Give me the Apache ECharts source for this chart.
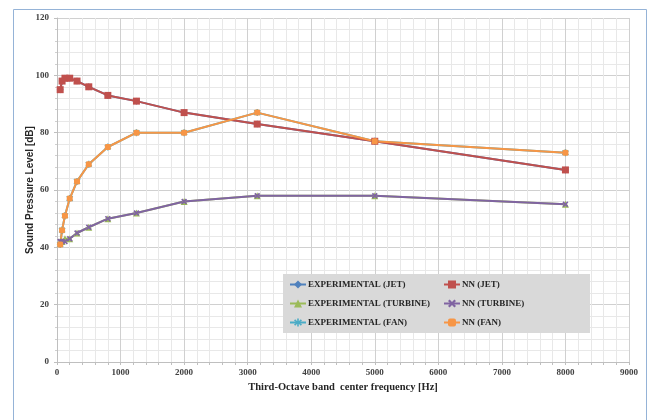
<!DOCTYPE html>
<html>
<head>
<meta charset="utf-8">
<script src="https://cdn.jsdelivr.net/npm/echarts@6/dist/echarts.min.js"></script>
<style>
  html, body { margin: 0; padding: 0; background: #fff; }
  #chart { width: 653px; height: 420px; }
</style>
</head>
<body>
<div id="chart"></div>
<script>
// every second third-octave band
const freqs = [50, 80, 125, 200, 315, 500, 800, 1250, 2000, 3150, 5000, 8000]

const expJet = [95, 98, 99, 99, 98, 96, 93, 91, 87, 83, 77, 67]
const nnJet = [95, 98, 99, 99, 98, 96, 93, 91, 87, 83, 77, 67]
const expTurbine = [42, 42, 43, 43, 45, 47, 50, 52, 56, 58, 58, 55]
const nnTurbine = [42, 42, 42, 43, 45, 47, 50, 52, 56, 58, 58, 55]
const expFan = [41, 46, 51, 57, 63, 69, 75, 80, 80, 87, 77, 73]
const nnFan = [41, 46, 51, 57, 63, 69, 75, 80, 80, 87, 77, 73]

const xSymbol = 'path://M2,0L5,3L8,0L10,2L7,5L10,8L8,10L5,7L2,10L0,8L3,5L0,2Z'
const starSymbol = 'path://M4,0L6,0L6,3.5L8.5,1L10,2.5L7,5L10,7.5L8.5,9L6,6.5L6,10L4,10L4,6.5L1.5,9L0,7.5L3,5L0,2.5L1.5,1L4,3.5Z'

const serif = '"Liberation Serif", "DejaVu Serif", serif'
const pairs = (ys) => freqs.map((f, i) => [f, ys[i]])

const chart = echarts.init(document.getElementById('chart'), null, { renderer: 'canvas' })

function line(name, ys, color, symbol, size) {
  return {
    name, type: 'line', data: pairs(ys),
    symbol, symbolSize: size, showSymbol: true,
    lineStyle: { width: 2, color },
    itemStyle: { color },
    emphasis: { disabled: true },
    animation: false,
  }
}

const legendText = { fontFamily: serif, fontWeight: 'bold', fontSize: 9, color: '#262626', padding: [0, 0, 0, -3] }

chart.setOption({
  backgroundColor: '#fff',
  animation: false,
  grid: { left: 57, right: 24, top: 18, bottom: 58 },
  graphic: [
    { type: 'rect', shape: { x: 13.5, y: 9.5, width: 633, height: 430 }, style: { fill: 'none', stroke: '#95b3d7', lineWidth: 1 }, z: -1 },
    { type: 'rect', shape: { x: 283, y: 274, width: 307, height: 59 }, style: { fill: '#d9d9d9' }, z: 5 },
  ],
  legend: [
    {
      orient: 'vertical', left: 284, top: 275, itemGap: 10, itemWidth: 16, itemHeight: 10,
      data: ['EXPERIMENTAL (JET)', 'EXPERIMENTAL (TURBINE)', 'EXPERIMENTAL (FAN)'],
      textStyle: legendText, z: 6,
    },
    {
      orient: 'vertical', left: 438, top: 275, itemGap: 10, itemWidth: 16, itemHeight: 10,
      data: ['NN (JET)', 'NN (TURBINE)', 'NN (FAN)'],
      textStyle: legendText, z: 6,
    },
  ],
  xAxis: {
    type: 'value', min: 0, max: 9000, interval: 1000,
    name: 'Third-Octave band  center frequency [Hz]',
    nameLocation: 'middle', nameGap: 19,
    nameTextStyle: { fontFamily: serif, fontWeight: 'bold', fontSize: 10.5, color: '#262626' },
    axisLine: { lineStyle: { color: '#bfbfbf' } },
    axisTick: { show: true, length: 3, lineStyle: { color: '#bfbfbf' } },
    minorTick: { show: true, splitNumber: 5, length: 3, lineStyle: { color: '#bfbfbf' } },
    axisLabel: { fontFamily: serif, fontWeight: 'bold', fontSize: 9, color: '#404040', margin: 6, formatter: (v) => String(v) },
    splitLine: { lineStyle: { color: '#d0d0d0' } },
    minorSplitLine: { show: true, lineStyle: { color: '#e8e8e8' } },
  },
  yAxis: {
    type: 'value', min: 0, max: 120, interval: 20,
    name: 'Sound Pressure Level [dB]',
    nameLocation: 'middle', nameGap: 22, nameRotate: 90, nameMoveOverlap: false,
    nameTextStyle: { fontFamily: '"Liberation Sans", Arial, sans-serif', fontWeight: 'bold', fontSize: 10, color: '#262626' },
    axisLine: { show: true, lineStyle: { color: '#bfbfbf' } },
    axisTick: { show: true, length: 3, lineStyle: { color: '#bfbfbf' } },
    minorTick: { show: true, splitNumber: 5, length: 2, lineStyle: { color: '#d0d0d0' } },
    axisLabel: { fontFamily: serif, fontWeight: 'bold', fontSize: 9, color: '#404040', margin: 8 },
    splitLine: { lineStyle: { color: '#d0d0d0' } },
    minorSplitLine: { show: true, lineStyle: { color: '#e8e8e8' } },
  },
  series: [
    line('EXPERIMENTAL (JET)', expJet, '#4f81bd', 'diamond', 7),
    line('EXPERIMENTAL (TURBINE)', expTurbine, '#9bbb59', 'triangle', 7),
    line('EXPERIMENTAL (FAN)', expFan, '#4bacc6', starSymbol, 7),
    line('NN (JET)', nnJet, '#c0504d', 'rect', 7),
    line('NN (TURBINE)', nnTurbine, '#8064a2', xSymbol, 6),
    line('NN (FAN)', nnFan, '#f79646', 'roundRect', 6),
  ],
})
</script>
</body>
</html>
